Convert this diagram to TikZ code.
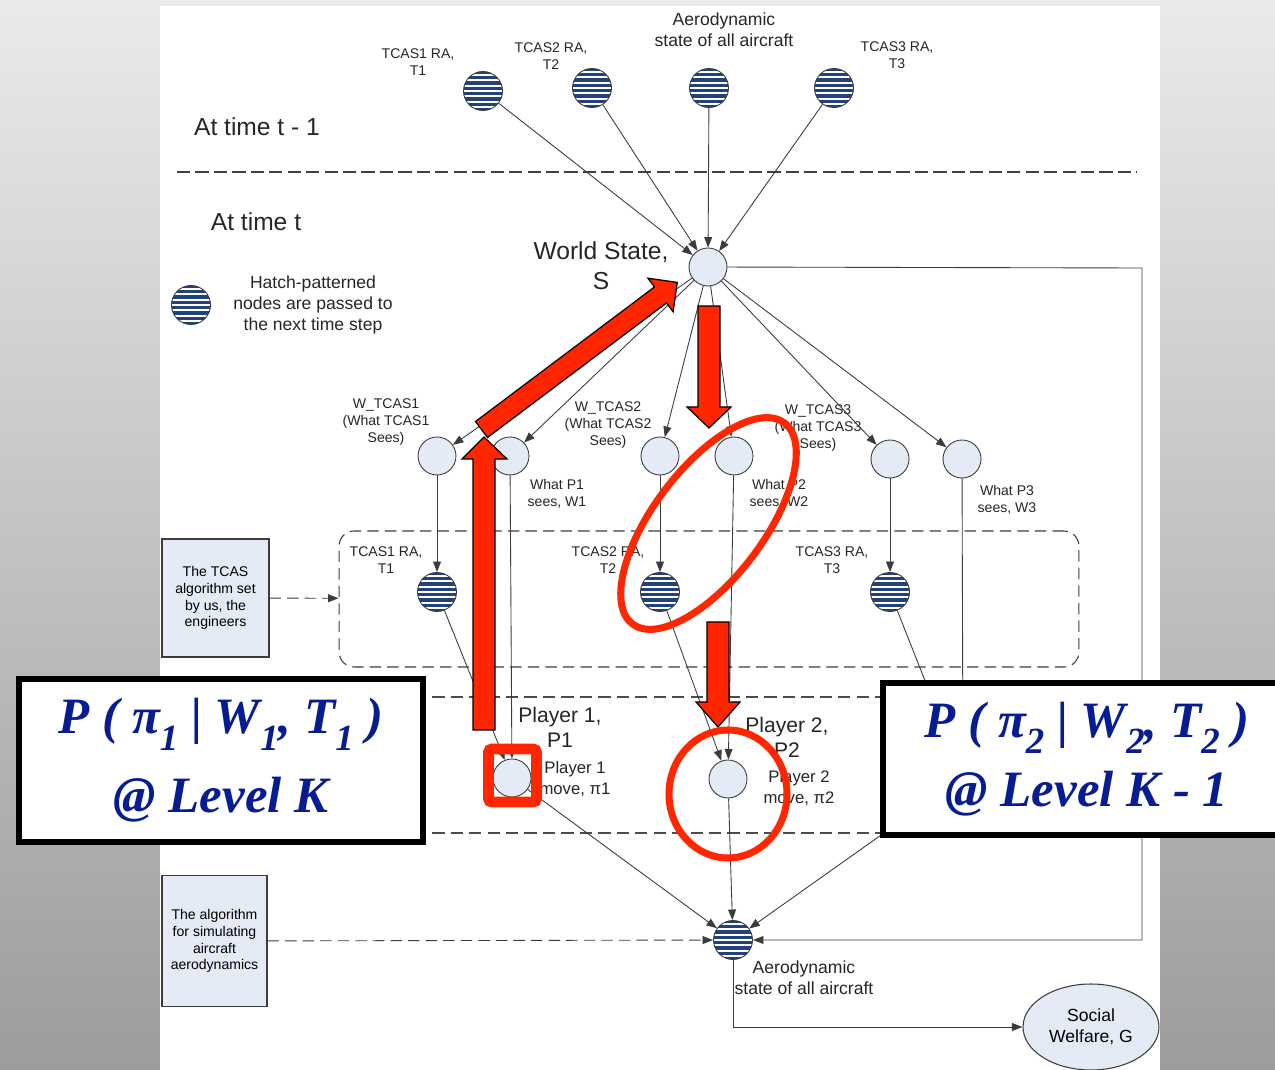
\documentclass[tikz,border=0pt]{standalone}
\usepackage{fontspec}
\setmainfont{Liberation Sans}
\newfontfamily\serifbi{Liberation Serif}
\usetikzlibrary{arrows.meta,shapes.geometric}
\definecolor{nodeblue}{RGB}{228,234,246}
\definecolor{hatchnavy}{RGB}{34,66,124}
\definecolor{edgegray}{RGB}{60,60,60}
\definecolor{annored}{RGB}{255,38,0}
\definecolor{formulablue}{RGB}{8,28,145}
\definecolor{bgtop}{RGB}{234,234,234}
\definecolor{bgbottom}{RGB}{156,156,156}
\newcommand{\lsub}[1]{\raisebox{-0.32em}{\fontsize{21}{21}\selectfont #1}}
\tikzset{
  plain/.style={circle,draw=edgegray,fill=nodeblue,minimum size=0.76cm,inner sep=0pt,line width=0.5pt},
  hatched/.style={circle,draw=edgegray,fill=hatchnavy,minimum size=0.78cm,inner sep=0pt,line width=0.5pt,
    path picture={\foreach \k in {-4,...,4}
      \draw[white,line width=1.1pt] ([yshift=\k*3pt]path picture bounding box.west) -- ([yshift=\k*3pt]path picture bounding box.east);}},
  lbl/.style={font=\fontsize{8}{9.9}\selectfont,align=center,inner sep=0pt,text=black!85},
  midlbl/.style={font=\fontsize{10}{11.9}\selectfont,align=center,inner sep=0pt,text=black!85},
  bigtxt/.style={font=\fontsize{14}{17}\selectfont,align=center,inner sep=0pt,text=black!85},
  playerlbl/.style={font=\fontsize{12}{14.2}\selectfont,align=center,inner sep=0pt,text=black!85},
  movelbl/.style={font=\fontsize{9.5}{12.4}\selectfont,align=center,inner sep=0pt,text=black!85},
  algobox/.style={draw=edgegray,fill=nodeblue,line width=0.6pt,font=\fontsize{8}{9.6}\selectfont,align=center,inner sep=0pt},
  groupbox/.style={draw=edgegray,line width=0.6pt,dash pattern=on 6.5pt off 3.5pt,rounded corners=0.3cm},
  edge/.style={draw=edgegray,line width=0.5pt},
  arr/.style={edge,-{Triangle[length=6pt,width=4.5pt]}},
  dasharr/.style={arr,dash pattern=on 6.5pt off 3.5pt},
  timesep/.style={draw=black!75,line width=1.1pt,dash pattern=on 7.5pt off 3pt},
  bandsep/.style={draw=black!70,line width=0.7pt,dash pattern=on 7pt off 3.5pt},
  bigbox/.style={draw=black,line width=3.4pt,fill=white,align=center,inner sep=0pt,
    text=formulablue,font=\serifbi\bfseries\itshape\fontsize{29}{36}\selectfont},
  redmark/.style={draw=annored,line width=4pt},
  redarrow/.style={fill=annored,draw=black,line width=0.7pt,line join=miter}
}

\begin{document}
\begin{tikzpicture}[x=0.02cm,y=-0.02cm]
\clip (0,0) rectangle (1275,1070);
\shade[top color=bgtop,bottom color=bgbottom] (0,0) rectangle (1275,1070);
\fill[white] (160,6) rectangle (1160,1070);

\node[bigtxt] (tprev) at (257,127) {At time t - 1};
\node[bigtxt] (tnow) at (256,222) {At time t};
\draw[timesep] (177,172) -- (1137,172);

\node[hatched] (t1) at (483,91) {};
\node[hatched] (t2) at (592,88) {};
\node[hatched] (a0) at (709,88) {};
\node[hatched] (t3) at (834,88) {};
\node[lbl] (t1l) at (418,62) {TCAS1 RA,\\T1};
\node[lbl] (t2l) at (551,56) {TCAS2 RA,\\T2};
\node[midlbl] (a0l) at (724,30) {Aerodynamic\\state of all aircraft};
\node[lbl] (t3l) at (897,55) {TCAS3 RA,\\T3};

\node[plain] (ws) at (708,267) {};
\node[bigtxt] (wsl) at (601,266) {World State,\\S};
\node[hatched] (leg) at (191,305) {};
\node[midlbl] (legl) at (313,305) {Hatch-patterned\\nodes are passed to\\the next time step};

\node[plain] (w1) at (437,456) {};
\node[plain] (p1s) at (510,456) {};
\node[plain] (w2) at (660,456) {};
\node[plain] (p2s) at (734,456) {};
\node[plain] (w3) at (890,459) {};
\node[plain] (p3s) at (962,459) {};
\node[lbl] (w1l) at (386,422) {W\_TCAS1\\(What TCAS1\\Sees)};
\node[lbl] (p1sl) at (557,494) {What P1\\sees, W1};
\node[lbl] (w2l) at (608,425) {W\_TCAS2\\(What TCAS2\\Sees)};
\node[lbl] (p2sl) at (779,494) {What P2\\sees, W2};
\node[lbl] (w3l) at (818,428) {W\_TCAS3\\(What TCAS3\\Sees)};
\node[lbl] (p3sl) at (1007,500) {What P3\\sees, W3};

\node[groupbox,minimum width=14.8cm,minimum height=2.72cm] (rabox) at (709,599) {};
\node[hatched] (r1) at (437,592) {};
\node[hatched] (r2) at (660,592) {};
\node[hatched] (r3) at (890,592) {};
\node[lbl] (r1l) at (386,560) {TCAS1 RA,\\T1};
\node[lbl] (r2l) at (608,560) {TCAS2 RA,\\T2};
\node[lbl] (r3l) at (832,560) {TCAS3 RA,\\T3};
\node[algobox,minimum width=2.14cm,minimum height=2.36cm] (tcasbox) at (215.5,598) {The TCAS\\algorithm set\\by us, the\\engineers};

\draw[bandsep] (340,697) -- (1100,697);
\draw[bandsep] (340,833) -- (1100,833);

\node[plain] (pl1) at (512,778) {};
\node[plain] (pl2) at (728,779) {};
\coordinate (p3) at (963,777);
\node[playerlbl] (pl1l) at (560,727) {Player 1,\\P1};
\node[movelbl] (pl1m) at (575,779) {Player 1\\move, π1};
\node[playerlbl] (pl2l) at (787,737) {Player 2,\\P2};
\node[movelbl] (pl2m) at (799,788) {Player 2\\move, π2};

\node[hatched] (a1) at (733,940) {};
\node[midlbl] (a1l) at (804,978) {Aerodynamic\\state of all aircraft};
\node[algobox,minimum width=2.1cm,minimum height=2.62cm] (algo) at (214.5,941) {The algorithm\\for simulating\\aircraft\\aerodynamics};
\node[ellipse,draw=edgegray,fill=nodeblue,line width=0.6pt,minimum width=2.72cm,minimum height=1.72cm,
  inner sep=0pt,align=center,font=\fontsize{10}{12}\selectfont] (sw) at (1091,1027) {Social\\Welfare, G};
\coordinate (fbk) at (1142,268);

\foreach \a/\b in {t1/ws,t2/ws,a0/ws,t3/ws,ws/w1,ws/p1s,ws/w2,ws/p2s,ws/w3,ws/p3s,
  w1/r1,w2/r2,w3/r3,r1/pl1,p1s/pl1,r2/pl2,p2s/pl2,pl1/a1,pl2/a1,p3/a1}
  \draw[arr] (\a) -- (\b);
\foreach \a in {r3,p3s}
  \draw[edge] (\a) -- (p3);
\draw[arr] (ws) -- (fbk) |- (a1);
\draw[arr] (a1) |- (sw);
\draw[dasharr] (tcasbox) -- (rabox);
\draw[dasharr] (algo) -- (a1);

\node[bigbox,minimum width=8.1cm,minimum height=3.26cm] (lvlk) at (221,760.5)
  {P ( π\lsub{1} | W\lsub{1}, T\lsub{1} )\\[9pt]@ Level K};
\node[bigbox,minimum width=8.18cm,minimum height=3.04cm] (lvlk1) at (1087,759)
  {P ( π\lsub{2} | W\lsub{2}, T\lsub{2} )\\[3pt]@ Level K - 1};

\fill[redarrow] (475.5,421.5) -- (654.5,287) -- (647.9,278.2) -- (677.3,282.4) -- (673.1,311.8) -- (666.5,303) -- (487.5,437.5) -- cycle;
\fill[redarrow] (473,730) -- (473,459) -- (462,459) -- (484,437) -- (507,459) -- (495,459) -- (495,730) -- cycle;
\fill[redarrow] (698,306) -- (698,407) -- (687,407) -- (709,428) -- (731,407) -- (720,407) -- (720,306) -- cycle;
\fill[redarrow] (707,622) -- (707,702) -- (696,702) -- (718,727) -- (740,702) -- (729,702) -- (729,622) -- cycle;
\draw[redmark,rotate around={52.9:(708.5,523.5)}] (708.5,523.5) ellipse [x radius=126,y radius=55];
\draw[redmark] (728,794) ellipse [x radius=59,y radius=64];
\draw[redmark,line width=6.2pt,rounded corners=2pt] (488.5,749) rectangle (536.5,802);
\end{tikzpicture}
\end{document}
